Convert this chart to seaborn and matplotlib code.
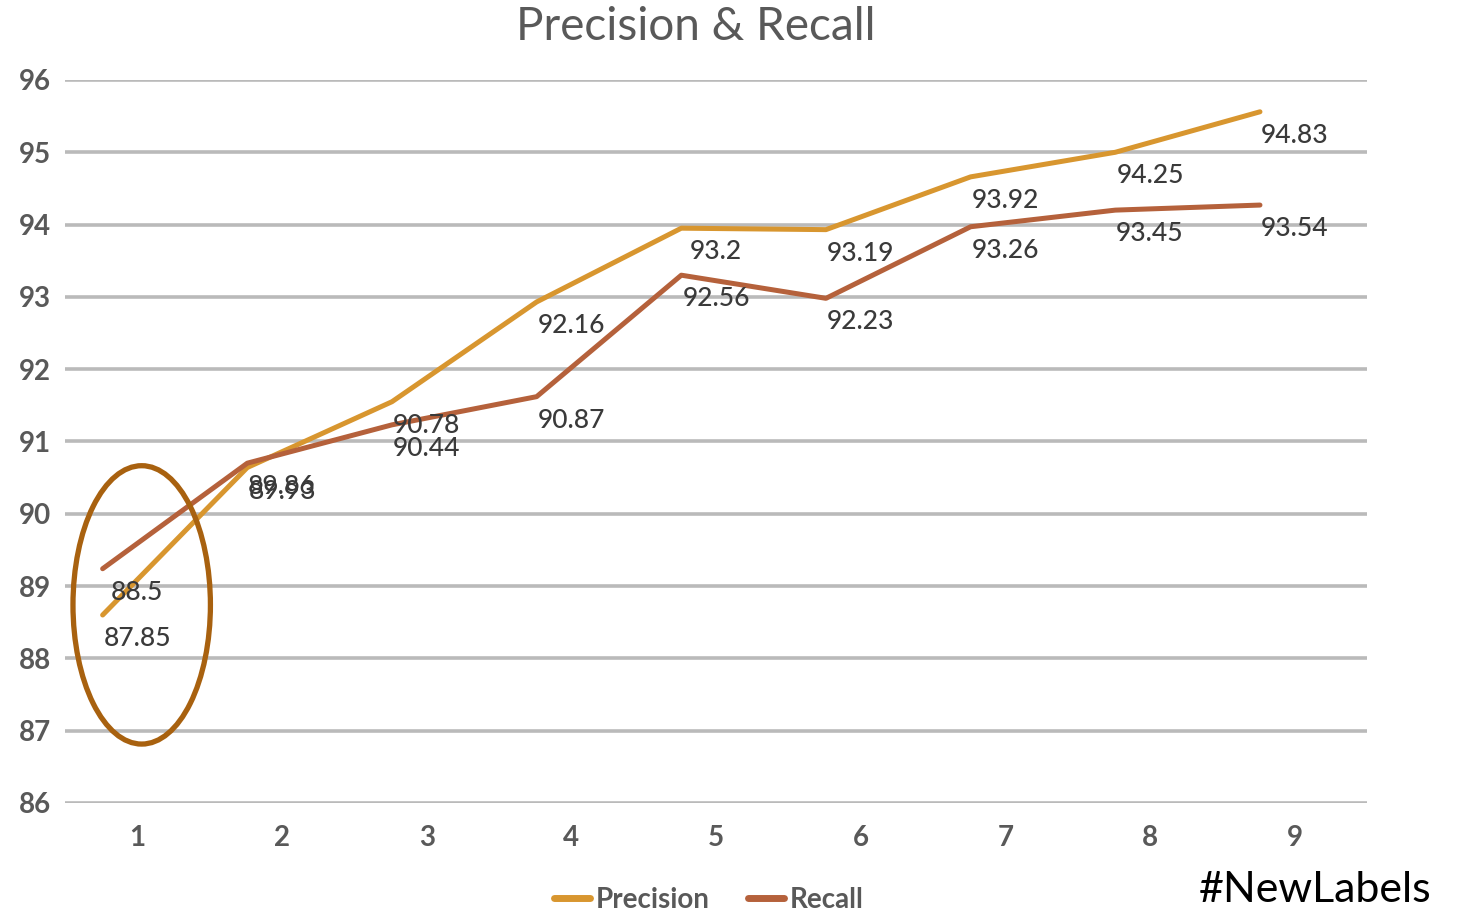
import matplotlib
matplotlib.use("Agg")
import matplotlib.pyplot as plt
from matplotlib.patches import Ellipse
import seaborn as sns
import pandas as pd

# данные
runs = [1, 2, 3, 4, 5, 6, 7, 8, 9]
precision = [88.60, 90.64, 91.55, 92.93, 93.95, 93.93, 94.66, 95.00, 95.56]
recall = [89.24, 90.70, 91.23, 91.62, 93.30, 92.98, 93.97, 94.20, 94.27]
precision_labels = ["87.85", "89.93", "90.78", "92.16", "93.2", "93.19", "93.92", "94.25", "94.83"]
recall_labels = ["88.5", "89.86", "90.44", "90.87", "92.56", "92.23", "93.26", "93.45", "93.54"]
line_shift = -0.24  # линии на картинке сдвинуты влево от делений

df = pd.DataFrame({"run": runs, "Precision": precision, "Recall": recall})
long = df.melt(id_vars="run", var_name="series", value_name="value")
long["xpos"] = long["run"] + line_shift

sns.set_theme(style="white")
plt.rcParams["font.family"] = ["Lato", "DejaVu Sans"]

colors = {"Precision": "#D8962F", "Recall": "#B5613B"}
grey = "#595959"

fig = plt.figure(figsize=(14.58, 9.13), dpi=100)
ax = fig.add_axes([0.0446, 0.1205, 0.893, 0.7919])

ax.set_ylim(86, 96)
ax.set_xlim(0.5, 9.5)
ax.set_yticks(range(86, 97))
ax.set_xticks(runs)
ax.yaxis.grid(True, color="#BABABA", linewidth=2.6)
ax.set_axisbelow(True)

sns.lineplot(data=long, x="xpos", y="value", hue="series", palette=colors,
             linewidth=3.6, ax=ax, legend=False)

# подписи значений под точками, у делений оси
for lbls, vals in [(precision_labels, precision), (recall_labels, recall)]:
    for x, v, t in zip(runs, vals, lbls):
        ax.annotate(t, (x, v), xytext=(0, -17), textcoords="offset points",
                    ha="center", va="center", fontsize=19, color="#3A3A3A",
                    fontweight="medium")

ax.add_patch(Ellipse((1.03, 88.74), 0.95, 3.85, fill=False,
                     edgecolor="#A8610F", linewidth=3.8, zorder=5))

for s in ax.spines.values():
    s.set_visible(False)
ax.tick_params(axis="both", length=0, labelsize=20, labelcolor=grey)
ax.tick_params(axis="y", pad=10)
ax.tick_params(axis="x", pad=16)
for lab in ax.get_xticklabels() + ax.get_yticklabels():
    lab.set_fontweight("bold")
ax.set_xlabel("")
ax.set_ylabel("")

fig.text(0.477, 0.970, "Precision & Recall", ha="center", va="center",
         fontsize=33, color=grey)

handles = [plt.Line2D([], [], color=colors[k], linewidth=5) for k in ["Precision", "Recall"]]
fig.legend(handles, ["Precision", "Recall"], loc="center", bbox_to_anchor=(0.486, 0.014),
           ncol=2, frameon=False, handlelength=1.3, handletextpad=0.2,
           columnspacing=1.4, labelcolor=grey, prop={"weight": "bold", "size": 20})

fig.text(0.9815, 0.025, "#NewLabels", ha="right", va="center", fontsize=31, color="black")

fig.savefig("out.png", dpi=100)
